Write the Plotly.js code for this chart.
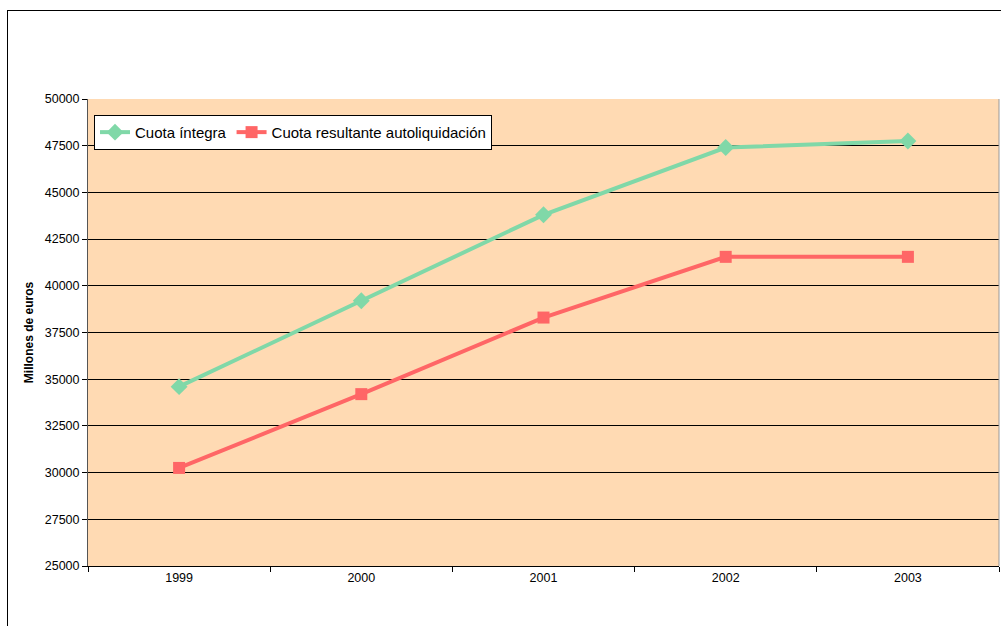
<!DOCTYPE html>
<html><head><meta charset="utf-8">
<script src="https://cdn.plot.ly/plotly-3.0.1.min.js"></script>
<style>
html,body{margin:0;padding:0;background:#fff;}
#wrap{position:relative;width:1001px;height:626px;}
#chart{width:1001px;height:626px;}
#frame{position:absolute;left:7px;top:10px;width:1100px;height:700px;border-left:1px solid #000;border-top:1px solid #000;pointer-events:none;}
</style></head>
<body>
<div id="wrap"><div id="chart"></div><div id="frame"></div></div>
<script>
const years = ['1999','2000','2001','2002','2003'];
const cuotaIntegra = [34600, 39200, 43800, 47400, 47750];
const cuotaResultante = [30250, 34200, 38300, 41550, 41550];
const yTicks = [25000,27500,30000,32500,35000,37500,40000,42500,45000,47500,50000];

const traces = [
  {x: years, y: cuotaIntegra, name: 'Cuota íntegra', type: 'scatter', mode: 'lines+markers',
   line: {color: '#80D8A8', width: 4}, marker: {symbol: 'diamond', size: 13, color: '#80D8A8'}},
  {x: years, y: cuotaResultante, name: 'Cuota resultante autoliquidación', type: 'scatter', mode: 'lines+markers',
   line: {color: '#FF6666', width: 4}, marker: {symbol: 'square', size: 12, color: '#FF6666'}}
];

const layout = {
  width: 1001, height: 626,
  margin: {l: 88, r: 2, t: 99, b: 60},
  paper_bgcolor: '#FFFFFF',
  plot_bgcolor: '#FFDAB3',
  font: {family: 'Liberation Sans, Arial, sans-serif', size: 12, color: '#000'},
  showlegend: true,
  legend: {x: 0.0066, y: 0.966, xanchor: 'left', yanchor: 'top', orientation: 'h',
    bgcolor: '#FFFFFF', bordercolor: '#000', borderwidth: 1,
    font: {size: 15, color: '#000'}, itemwidth: 30, tracegroupgap: 0},
  xaxis: {type: 'category', range: [-0.5, 4.5], tickson: 'boundaries', ticks: 'outside', ticklen: 5,
    tickcolor: '#000', showgrid: false, showline: true, linecolor: '#000', linewidth: 1,
    zeroline: false, tickfont: {size: 12.5}, mirror: false, fixedrange: true},
  yaxis: {range: [25000, 50000], tickvals: yTicks, ticktext: yTicks.map(String), ticks: 'outside',
    ticklen: 5, tickcolor: '#000', showgrid: true, gridcolor: '#000', gridwidth: 1,
    showline: true, linecolor: '#555', linewidth: 1, zeroline: false, tickfont: {size: 12.5},
    title: {text: 'Millones de euros', font: {size: 12, weight: 'bold'}, standoff: 8}},
  shapes: [
    {type: 'line', xref: 'paper', yref: 'paper', x0: 1, x1: 1, y0: 0, y1: 1, line: {color: '#999', width: 1}}
  ]
};

Plotly.newPlot('chart', traces, layout, {displayModeBar: false, staticPlot: true});
</script>
</body></html>
